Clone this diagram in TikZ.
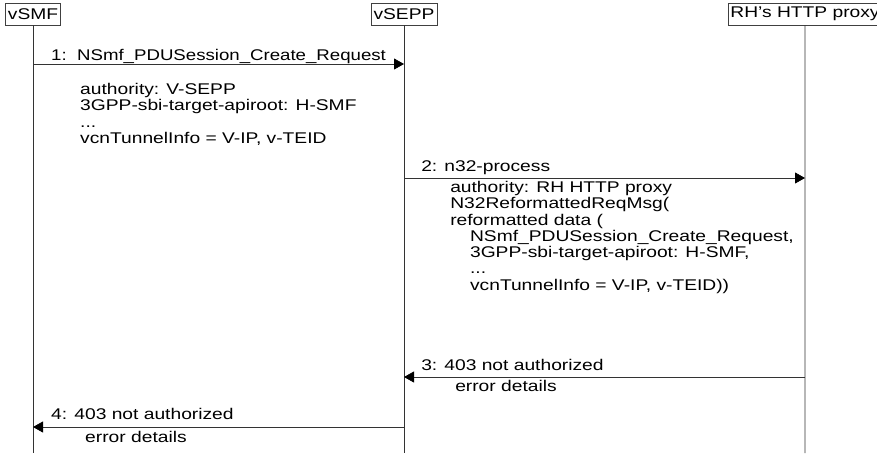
\documentclass[tikz,border=0pt]{standalone}
\usepackage{fontspec}
\setmainfont{Liberation Sans}
\usetikzlibrary{arrows.meta}

\tikzset{
  party/.style={draw=black!75, fill=white, line width=0.8pt, inner xsep=2pt,
    inner ysep=0pt, minimum height=22pt, xscale=1.24,
    font=\fontsize{15.5}{16.3}\selectfont},
  lifeline/.style={draw=black!80, line width=0.8pt},
  msg/.style={draw=black!80, line width=0.8pt,
    -{Triangle[length=10pt,width=11pt,fill=black,color=black]}},
  msgtext/.style={anchor=base west, inner sep=0pt, align=left, xscale=1.24,
    font=\fontsize{15.5}{16.3}\selectfont},
  bodytext/.style={msgtext, anchor=north west},
}

\begin{document}
\begin{tikzpicture}[x=1pt, y=-1pt]
    \useasboundingbox (0,0) rectangle (877,453);
    \clip (0,0) rectangle (877,453);

    % parties and their lifelines
    \node[party] (smf)   at (33,14)  {vSMF};
    \node[party] (sepp)  at (404,14) {vSEPP};
    \node[party] (proxy) at (805,14) {RH's HTTP proxy};

    \coordinate (smfend)   at (33,453);
    \coordinate (seppend)  at (404,453);
    \coordinate (proxyend) at (805,453);
    \draw[lifeline] (smf) -- (smfend);
    \draw[lifeline] (sepp) -- (seppend);
    \draw[lifeline] (proxy) -- (proxyend);

    % 1
    \coordinate (m1a) at (33,64);
    \coordinate (m1b) at (404,64);
    \draw[msg] (m1a) -- (m1b);
    \node[msgtext, xscale=0.97] (l1) at (51,60) {1:\ \ NSmf\_PDUSession\_Create\_Request};
    \node[bodytext] (b1) at (80,83) {authority: V-SEPP\\
      3GPP-sbi-target-apiroot: H-SMF\\
      ...\\
      vcnTunnelInfo = V-IP, v-TEID};

    % 2
    \coordinate (m2a) at (404,178);
    \coordinate (m2b) at (805,178);
    \draw[msg] (m2a) -- (m2b);
    \node[msgtext] (l2) at (421,171) {2: n32-process};
    \node[bodytext] (b2) at (450,181) {authority: RH HTTP proxy\\
      N32ReformattedReqMsg(\\
      reformatted data (\\
      \hspace*{16pt}NSmf\_PDUSession\_Create\_Request,\\
      \hspace*{16pt}3GPP-sbi-target-apiroot: H-SMF,\\
      \hspace*{16pt}...\\
      \hspace*{16pt}vcnTunnelInfo = V-IP, v-TEID))};

    % 3
    \coordinate (m3a) at (805,377);
    \coordinate (m3b) at (404,377);
    \draw[msg] (m3a) -- (m3b);
    \node[msgtext] (l3) at (421,370) {3: 403 not authorized};
    \node[msgtext] (b3) at (455,391) {error details};

    % 4
    \coordinate (m4a) at (404,427);
    \coordinate (m4b) at (33,427);
    \draw[msg] (m4a) -- (m4b);
    \node[msgtext] (l4) at (51,419) {4: 403 not authorized};
    \node[msgtext] (b4) at (85,442) {error details};
  \end{tikzpicture}
\end{document}
